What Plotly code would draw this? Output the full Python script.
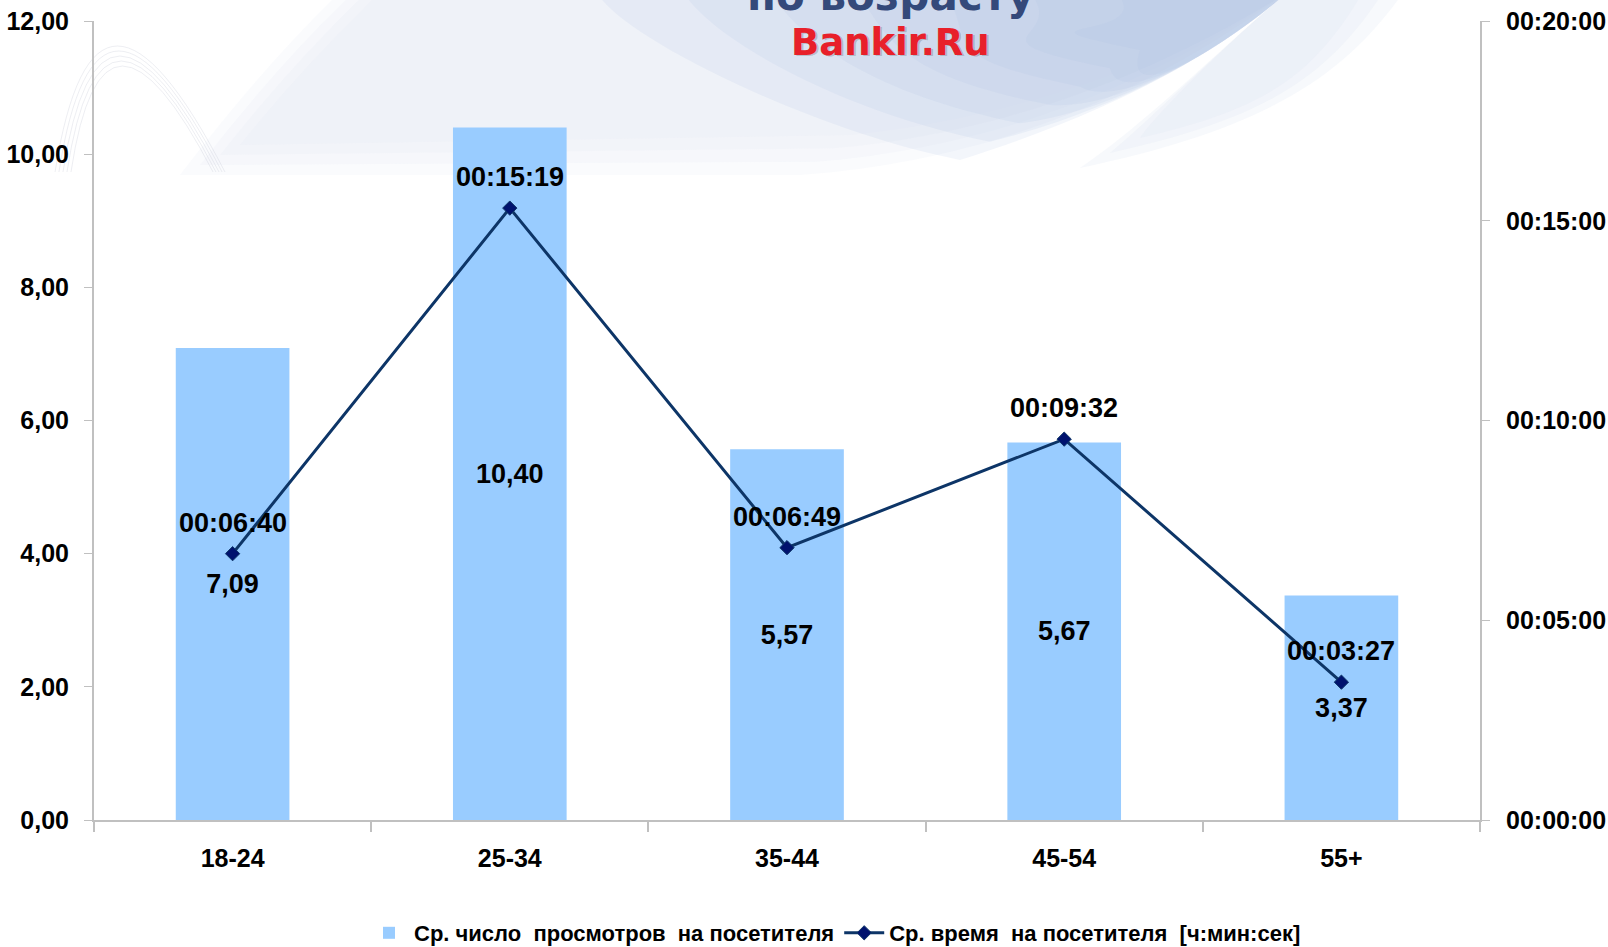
import plotly.graph_objects as go

# ---- data ----
categories = ["18-24", "25-34", "35-44", "45-54", "55+"]
views_per_visitor = [7.09, 10.40, 5.57, 5.67, 3.37]
time_per_visitor = ["00:06:40", "00:15:19", "00:06:49", "00:09:32", "00:03:27"]
left_ticks = [0, 2, 4, 6, 8, 10, 12]
right_ticks_sec = [0, 300, 600, 900, 1200]

name_bar = "Ср. число  просмотров  на посетителя"
name_line = "Ср. время  на посетителя  [ч:мин:сек]"


def to_sec(s):
    h, m, sec = (int(p) for p in s.split(":"))
    return h * 3600 + m * 60 + sec


def fmt_sec(v):
    v = int(v)
    return f"{v // 3600:02d}:{(v % 3600) // 60:02d}:{v % 60:02d}"


time_sec = [to_sec(t) for t in time_per_visitor]

# figure geometry (pixels)
W, H = 1608, 947
L, R, T, B = 94, 1480, 21, 820


def px(x):
    return (x - L) / (R - L)


def py(y):
    return (B - y) / (B - T)


def path(pts_cmds, close=True):
    out = []
    for cmd, pts in pts_cmds:
        coords = " ".join(f"{px(x):.4f},{py(y):.4f}" for x, y in pts)
        out.append(f"{cmd} {coords}")
    return " ".join(out) + (" Z" if close else "")


FONT = "Liberation Sans, Arial, sans-serif"
TITLE_FONT = "DejaVu Sans, Verdana, sans-serif"

fig = go.Figure()
fig.add_trace(go.Bar(
    x=categories, y=views_per_visitor, name=name_bar,
    marker=dict(color="#99ccff", line=dict(width=0)),
    width=0.41,
    texttemplate="%{y:.2f}", textposition="inside", insidetextanchor="middle",
    textangle=0,
    textfont=dict(family=FONT, size=27, color="#000000", weight="bold"),
    yaxis="y",
))
fig.add_trace(go.Scatter(
    x=categories, y=time_sec, name=name_line, mode="lines+markers",
    line=dict(color="#0d3567", width=3),
    marker=dict(symbol="diamond", size=11, color="#00126e",
                line=dict(color="#0d3567", width=1)),
    yaxis="y2", cliponaxis=False,
))

shapes = []
# subtle background decoration, built from stacked translucent layers (soft fade)
for k in range(4):
    t = k / 3
    shapes.append(dict(type="path", xref="paper", yref="paper", layer="below",
                       path=path([("M", [(180 + 60 * t, 175 - 30 * t)]),
                                  ("Q", [(260 + 40 * t, 70), (335 + 40 * t, -3)]),
                                  ("L", [(1280, -3)]),
                                  ("C", [(1150, 90 - 20 * t), (1000, 160 - 40 * t),
                                         (800 + 50 * t, 175 - 40 * t)])]),
                       fillcolor="rgba(228,234,244,0.18)", line=dict(width=0)))
for k in range(7):
    t = k / 6
    xl = 600 + 520 * t
    bx, by = 960 + 180 * t, 160 - 110 * t
    shapes.append(dict(type="path", xref="paper", yref="paper", layer="below",
                       path=path([("M", [(xl, -3)]), ("L", [(1282, -3)]),
                                  ("C", [(1220, 50), (1120, 110), (bx, by)]),
                                  ("C", [(bx - 150, by - 30), (xl + 30, 40), (xl, -3)])]),
                       fillcolor="rgba(170,192,228,0.14)", line=dict(width=0)))
for k in range(3):
    t = k / 2
    shapes.append(dict(type="path", xref="paper", yref="paper", layer="below",
                       path=path([("M", [(1282, -3)]), ("L", [(1400 - 40 * t, -3)]),
                                  ("C", [(1340 - 30 * t, 80), (1260, 130 - 20 * t),
                                         (1080 + 60 * t, 168 - 30 * t)]),
                                  ("C", [(1150, 120), (1230, 40), (1282, -3)])]),
                       fillcolor="rgba(225,232,244,0.25)", line=dict(width=0)))
for i in range(5):
    shapes.append(dict(type="path", xref="paper", yref="paper", layer="below",
                       path=path([("M", [(55 + 4 * i, 172)]),
                                  ("Q", [(95 + 2 * i, -80 + 10 * i), (225 - 3 * i, 172)])],
                                 close=False),
                       line=dict(color="rgba(195,200,212,0.3)", width=1)))

annotations = [
    dict(text="по возрасту", x=px(890), y=py(-5), xref="paper", yref="paper",
         xanchor="center", yanchor="middle", showarrow=False,
         font=dict(family=TITLE_FONT, size=42, color="#34497a", weight="bold")),
    dict(text="Bankir.Ru", x=px(892), y=py(44), xref="paper", yref="paper",
         xanchor="center", yanchor="middle", showarrow=False,
         font=dict(family=TITLE_FONT, size=37, color="rgba(0,0,0,0.18)", weight="bold")),
    dict(text="Bankir.Ru", x=px(890), y=py(42), xref="paper", yref="paper",
         xanchor="center", yanchor="middle", showarrow=False,
         font=dict(family=TITLE_FONT, size=37, color="#e8202a", weight="bold")),
]
# labels of the time line, placed above each point through the y2 axis
for cat, sec, lab in zip(categories, time_sec, time_per_visitor):
    annotations.append(dict(text=lab, x=cat, y=sec, xref="x", yref="y2",
                            xanchor="center", yanchor="middle", yshift=31,
                            showarrow=False,
                            font=dict(family=FONT, size=27, color="#000000",
                                      weight="bold")))

tickfont = dict(family=FONT, size=25, color="#000000", weight="bold")
fig.update_layout(
    width=W, height=H,
    margin=dict(l=L, r=W - R, t=T, b=H - B, autoexpand=False),
    paper_bgcolor="#ffffff", plot_bgcolor="rgba(0,0,0,0)",
    separators=", ",
    showlegend=True,
    legend=dict(orientation="h", x=px(835), xanchor="center", y=py(933), yanchor="middle",
                font=dict(family="Liberation Sans Narrow, Arial Narrow, sans-serif",
                          size=22, color="#000000", weight="bold"),
                bgcolor="rgba(0,0,0,0)", itemwidth=40, tracegroupgap=0),
    xaxis=dict(range=[-0.5, 4.5], showgrid=False, showline=True, linecolor="#c0c0c0",
               linewidth=2, ticks="outside", tickson="boundaries", ticklen=10,
               tickcolor="#c0c0c0", tickwidth=2, tickfont=tickfont,
               ticklabelstandoff=15, zeroline=False),
    yaxis=dict(range=[0, 12], tickvals=left_ticks, tickformat=".2f", showgrid=False,
               showline=True, linecolor="#c0c0c0", linewidth=2, ticks="outside",
               ticklen=8, tickcolor="#c0c0c0", tickwidth=1, tickfont=tickfont,
               ticklabelstandoff=10, zeroline=False),
    yaxis2=dict(range=[0, 1200], overlaying="y", side="right",
                tickvals=right_ticks_sec, ticktext=[fmt_sec(v) for v in right_ticks_sec],
                showgrid=False, showline=True, linecolor="#c0c0c0", linewidth=2,
                ticks="outside", ticklen=8, tickcolor="#c0c0c0", tickwidth=1,
                tickfont=tickfont, ticklabelstandoff=11, zeroline=False),
    shapes=shapes, annotations=annotations,
)

fig.write_html("out.html", config={"displayModeBar": False},
               post_script="document.body.style.margin='0';")
